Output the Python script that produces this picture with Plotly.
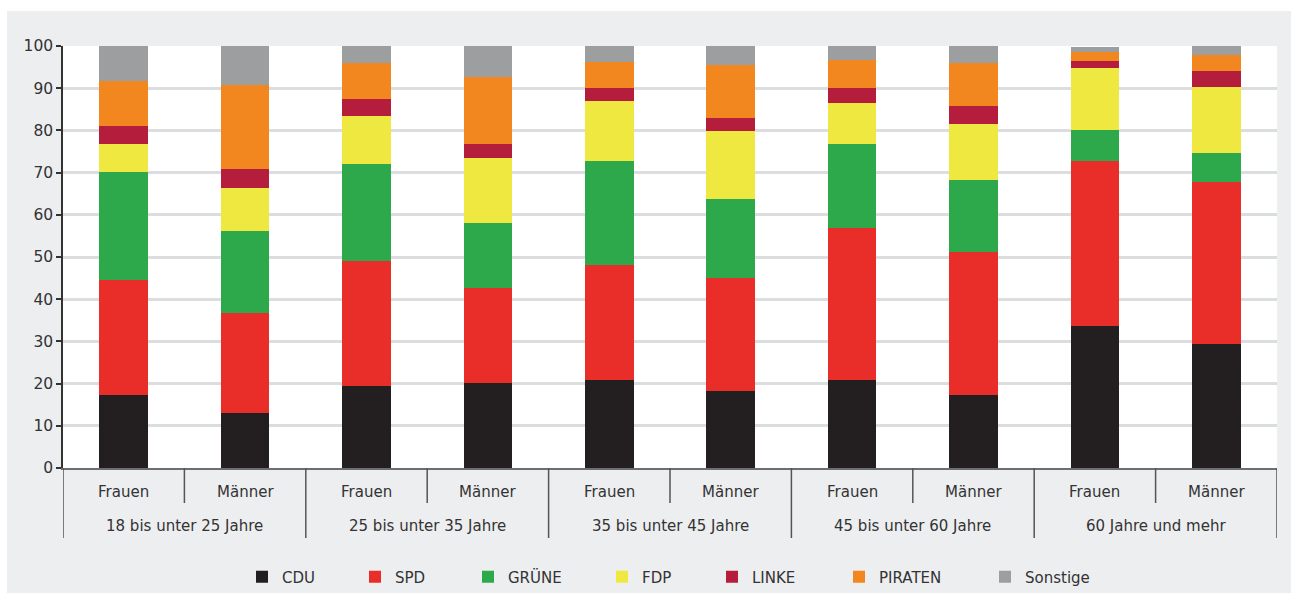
import plotly.graph_objects as go

groups = ["18 bis unter 25 Jahre", "25 bis unter 35 Jahre", "35 bis unter 45 Jahre",
          "45 bis unter 60 Jahre", "60 Jahre und mehr"]
sexes = ["Frauen", "Männer"]

parties = ["CDU", "SPD", "GRÜNE", "FDP", "LINKE", "PIRATEN", "Sonstige"]
cdu = [17.2, 13.0, 19.4, 20.1, 20.8, 18.2, 20.8, 17.2, 33.6, 29.5]
spd = [27.3, 23.7, 29.7, 22.6, 27.2, 26.8, 36.1, 34.1, 39.1, 38.3]
gruene = [25.6, 19.4, 22.9, 15.4, 24.7, 18.7, 19.8, 16.9, 7.3, 6.8]
fdp = [6.6, 10.2, 11.3, 15.3, 14.2, 16.1, 9.9, 13.2, 14.9, 15.8]
linke = [4.3, 4.5, 4.1, 3.3, 3.1, 3.1, 3.4, 4.5, 1.5, 3.6]
piraten = [10.6, 19.9, 8.5, 15.9, 6.2, 12.5, 6.8, 10.0, 2.2, 3.8]
sonstige = [8.4, 9.3, 4.1, 7.4, 3.8, 4.6, 3.2, 4.1, 1.1, 2.2]
yticks = [0, 10, 20, 30, 40, 50, 60, 70, 80, 90, 100]

series = [cdu, spd, gruene, fdp, linke, piraten, sonstige]
colors = ["#231f20", "#e92d28", "#2da84a", "#efe841", "#b41e3c", "#f3871f", "#9d9ea0"]

W, H = 1291, 593
L, R, T, B = 63, 1277, 46, 468
PH = B - T

x_outer = [g for g in groups for s in sexes]
x_inner = [s for g in groups for s in sexes]
n = len(x_inner)
ns = len(sexes)

font = "DejaVu Sans, Verdana, sans-serif"
txt = "#333333"
fig = go.Figure()
for i, (name, vals, col) in enumerate(zip(parties, series, colors)):
    lg = "legend" if i == 0 else f"legend{i+1}"
    fig.add_trace(go.Bar(x=[x_outer, x_inner], y=vals, name=name,
                         marker=dict(color=col, line=dict(width=0)),
                         legend=lg))

# legend square centres in page px
legend_px = [265, 378, 491, 625, 735, 862, 1008]
layout_legends = {}
for i, px in enumerate(legend_px):
    key = "legend" if i == 0 else f"legend{i+1}"
    layout_legends[key] = dict(
        x=(px - 3 - 20) / W, xref="container", xanchor="left",
        y=(H - 577) / H, yref="container", yanchor="middle",
        bgcolor="rgba(0,0,0,0)", borderwidth=0, itemwidth=30,
        font=dict(family=font, size=15, color=txt),
    )

def py(p):
    return (B - p) / PH

inner_bounds = [g * ns + k - 0.5 for g in range(len(groups)) for k in range(1, ns)]
outer_bounds = [g * ns - 0.5 for g in range(len(groups) + 1)]
outer_pos = [g * ns + (ns - 1) / 2 for g in range(len(groups))]

shapes = [
    dict(type="rect", xref="paper", yref="paper", layer="below",
         x0=(7 - L) / (R - L), x1=(W + 2 - L) / (R - L), y0=py(H + 2), y1=py(11),
         fillcolor="#edeef0", line=dict(width=0)),
    dict(type="rect", xref="paper", yref="paper", layer="below",
         x0=0, x1=1, y0=0, y1=1, fillcolor="white", line=dict(width=0)),
]
for xb in inner_bounds:
    shapes.append(dict(type="line", xref="x", yref="paper", x0=xb, x1=xb,
                       y0=0, y1=py(B + 35), line=dict(color="#555555", width=1.5)))
for xb in outer_bounds:
    shapes.append(dict(type="line", xref="x", yref="paper", x0=xb, x1=xb,
                       y0=0, y1=py(B + 70), line=dict(color="#555555", width=1.5)))

annotations = []
for i, s in enumerate(x_inner):
    annotations.append(dict(x=i, xref="x", y=py(492), yref="paper", text=s,
                            showarrow=False, xanchor="center", yanchor="middle",
                            font=dict(family=font, size=15, color=txt)))
for xp, g in zip(outer_pos, groups):
    annotations.append(dict(x=xp, xref="x", y=py(526), yref="paper", text=g,
                            showarrow=False, xanchor="center", yanchor="middle",
                            font=dict(family=font, size=15, color=txt)))

fig.update_layout(
    width=W, height=H,
    margin=dict(l=L, r=W - R, t=T, b=H - B, autoexpand=False),
    paper_bgcolor="white",
    plot_bgcolor="rgba(0,0,0,0)",
    barmode="stack",
    bargap=0.6,
    hovermode=False,
    showlegend=True,
    font=dict(family=font, size=15, color=txt),
    shapes=shapes,
    annotations=annotations,
    xaxis=dict(
        type="multicategory", range=[-0.5, n - 0.5],
        showline=True, linecolor="#6d6e70", linewidth=2,
        ticks="", showticklabels=False, showdividers=False,
        showgrid=False, zeroline=False,
    ),
    yaxis=dict(
        range=[0, 100], tickvals=yticks, ticktext=[str(v) for v in yticks],
        showline=True, linecolor="#333333", linewidth=1.5,
        ticks="outside", ticklen=5, tickcolor="#333333", tickwidth=1.5,
        showgrid=True, gridcolor="#dcdddf", gridwidth=2.5,
        zeroline=False,
        tickfont=dict(family=font, size=15.5, color=txt),
    ),
    **layout_legends,
)

fig.write_html("out.html", config={"displayModeBar": False},
               post_script="document.body.style.margin='0';")
